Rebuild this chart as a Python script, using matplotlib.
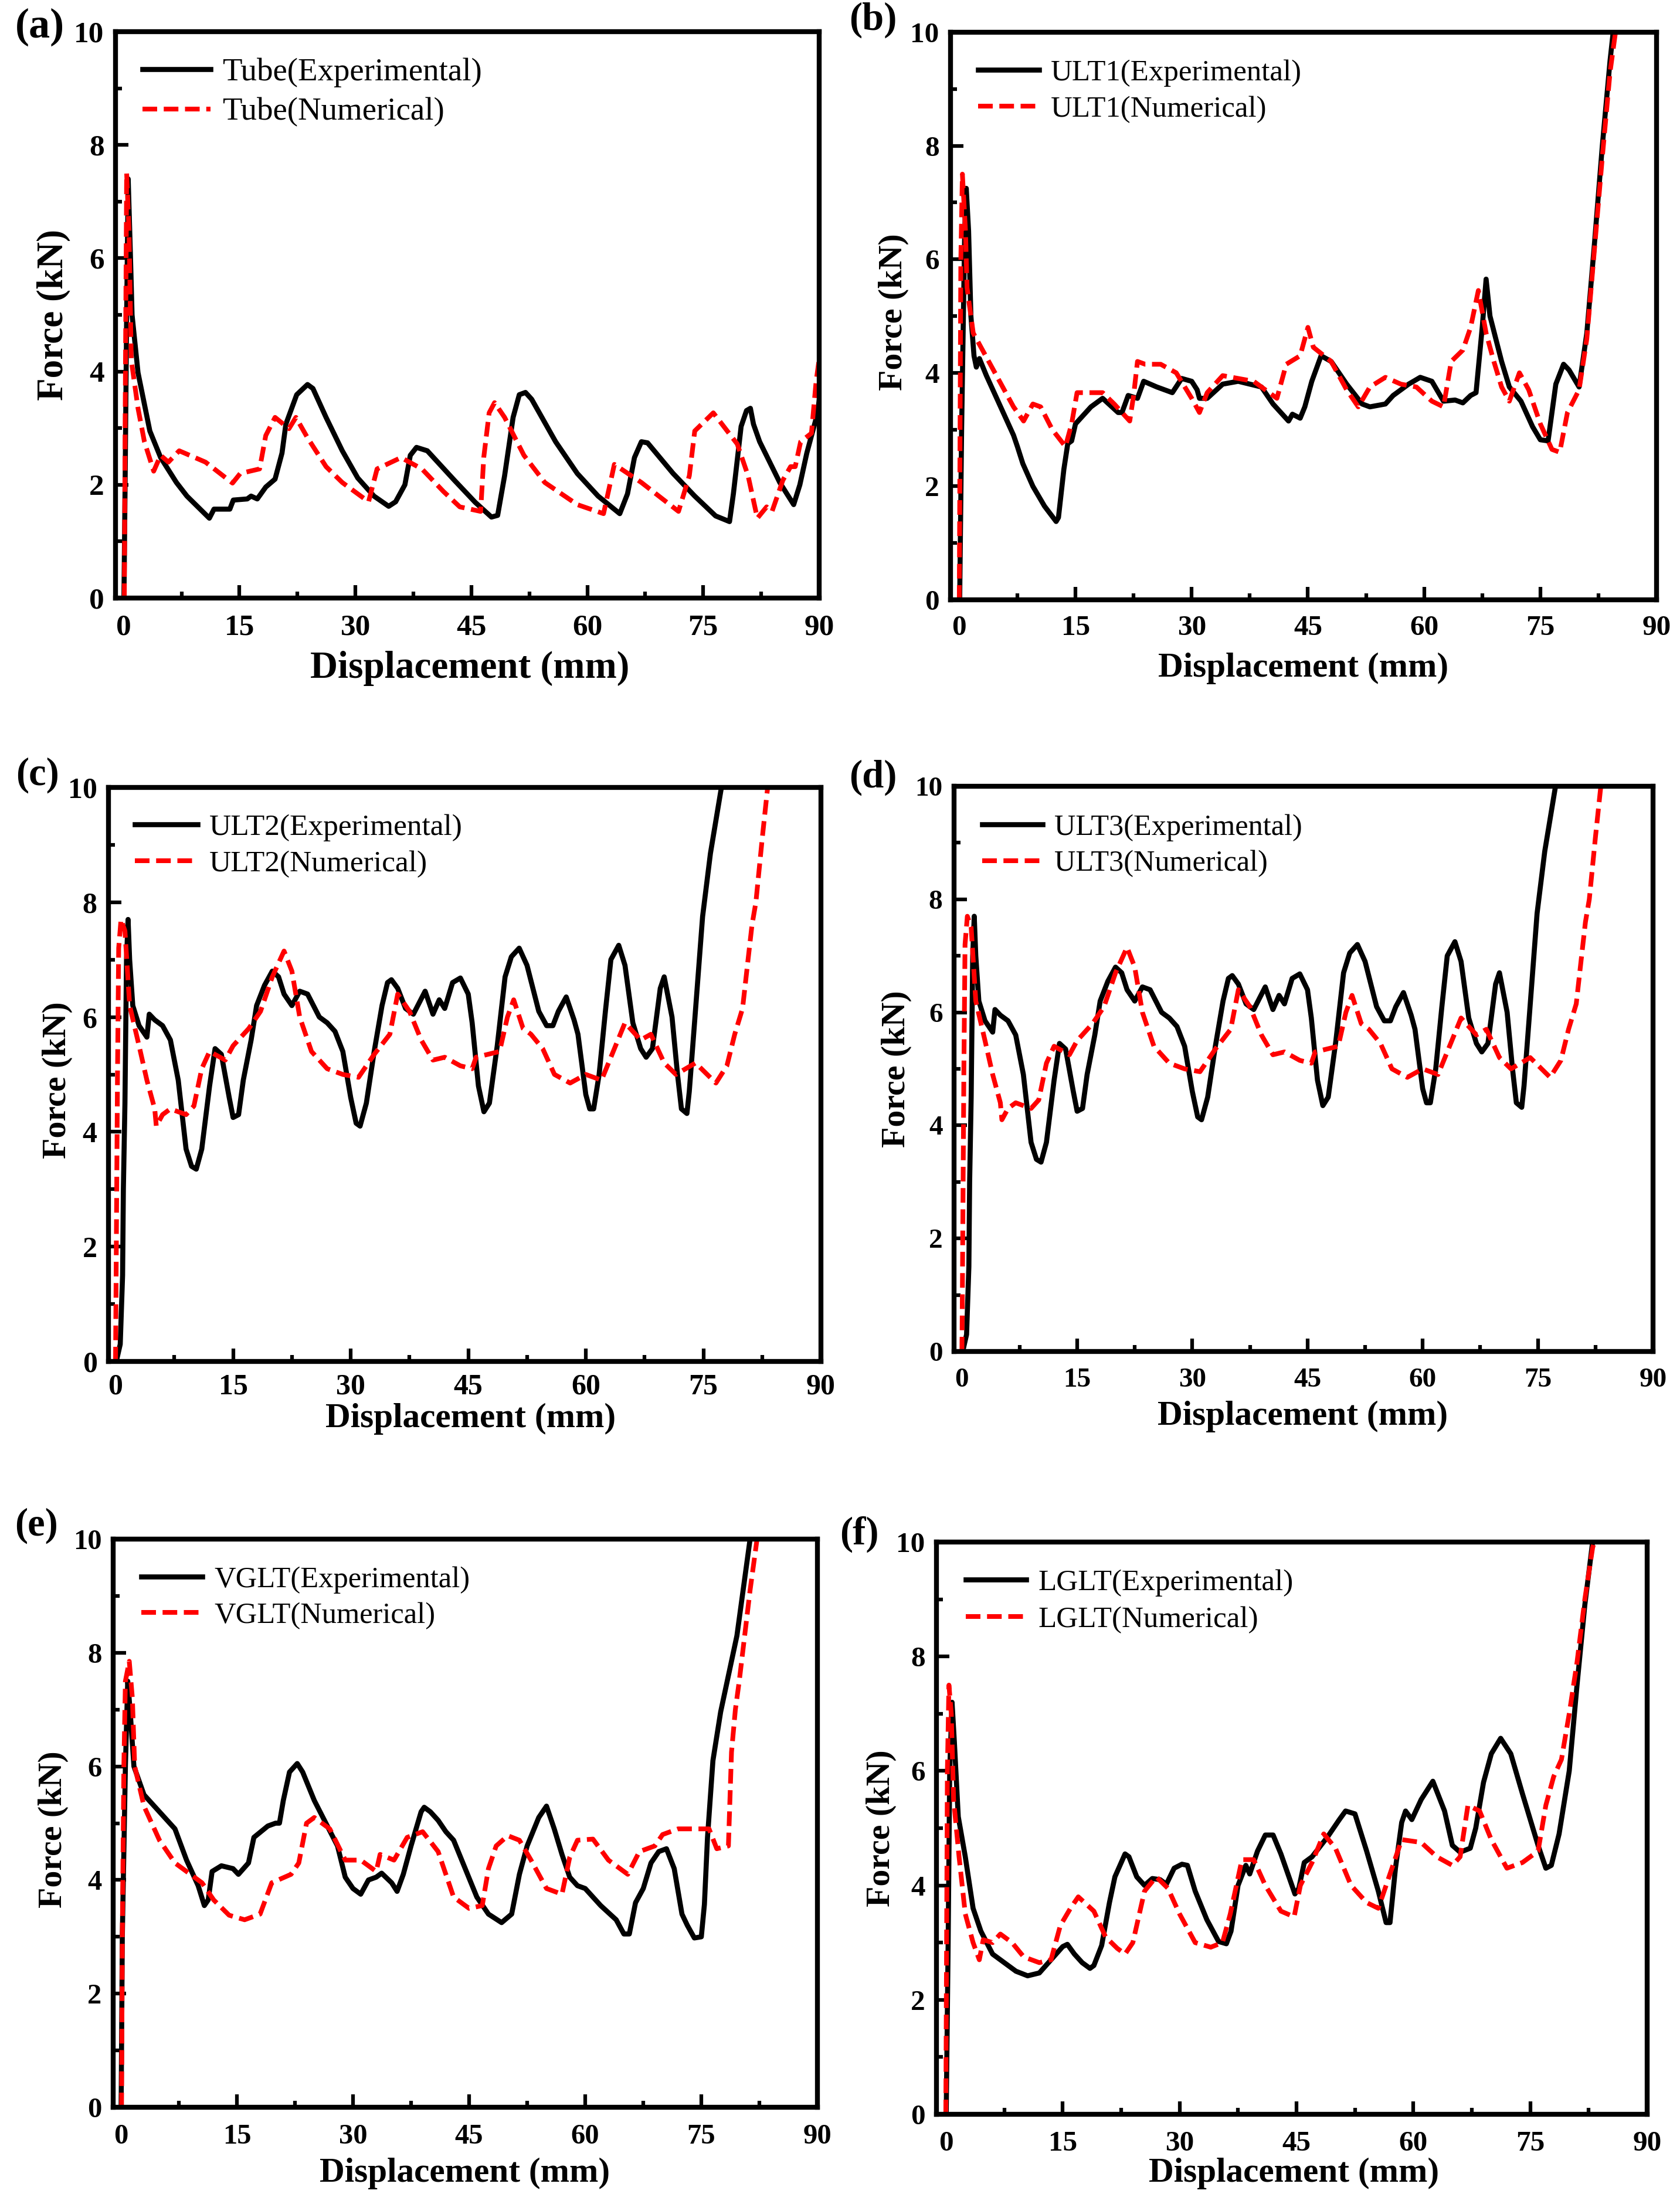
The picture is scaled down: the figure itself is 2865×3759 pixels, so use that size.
import matplotlib
matplotlib.use('Agg')
import matplotlib.pyplot as plt
from matplotlib.ticker import MultipleLocator

W, H = 2865, 3759
DPI = 100
plt.rcParams['font.family'] = ['Liberation Serif', 'DejaVu Serif']

# ---- curves: displacement (mm), force (kN)
tube_exp_x = [0.05,0.2,0.4,0.6,0.9,1.1,1.87,3.4,4.8,6.84,8.2,11.1,11.7,13.75,14.2,16,16.5,17.3,18.4,19.6,20.5,21,22.4,23.8,24.5,26.2,28.3,30.3,32.4,34.3,35.2,36.4,37.1,37.9,39.3,42.8,45.5,47.6,48.4,49.3,50.4,51.2,52,52.8,55.9,58.7,61.4,64.2,65.2,66.1,67,67.8,71.1,73.9,76.6,78.4,78.9,79.9,80.6,81.1,81.5,82.3,84.9,86.7,87.5,88.4,89.8,90]
tube_exp_y = [0,2,5,7.4,6,5,3.98,2.95,2.48,2.04,1.8,1.41,1.57,1.57,1.73,1.75,1.8,1.75,1.96,2.1,2.56,3.07,3.59,3.77,3.7,3.19,2.6,2.12,1.8,1.62,1.7,2.0,2.52,2.66,2.6,2.08,1.69,1.43,1.46,2.16,3.19,3.59,3.63,3.51,2.76,2.2,1.8,1.49,1.84,2.48,2.76,2.74,2.2,1.8,1.45,1.35,1.84,3.03,3.31,3.35,3.07,2.76,2.04,1.65,2.0,2.56,3.27,3.5]
tube_num_x = [0.1,0.2,0.4,0.7,1,1.87,2.7,3.9,4.8,5.8,7.2,10.6,14.1,15.1,17.6,18.4,19.6,21.4,22.3,23.8,26.2,28.3,31.7,32.8,35.9,38.6,41.4,43.5,46.2,46.6,47.3,48,49.3,51.8,54.5,58.7,62.1,63.5,67,71.8,73.2,73.9,76.3,79.4,80.8,82,83.2,83.9,85.3,86.3,86.9,87.6,89,89.6,90]
tube_num_y = [0,3,7.5,6.5,4.2,3.35,2.76,2.24,2.52,2.4,2.6,2.4,2.03,2.2,2.28,2.87,3.19,2.99,3.19,2.83,2.32,2.04,1.7,2.28,2.48,2.28,1.88,1.61,1.53,2.48,3.27,3.45,3.19,2.52,2.04,1.65,1.49,2.36,2.04,1.53,2.16,2.95,3.27,2.72,2.16,1.41,1.61,1.53,2.08,2.32,2.32,2.76,2.91,3.82,4.22]

ult1_exp_x = [0.05,0.3,0.7,0.9,1.2,1.5,1.9,2.2,2.6,3.5,5,7,7.5,8.2,9.5,11,12.5,12.8,13.5,14,14.5,15,17,18,18.5,20.5,21,21.8,23,23.8,25.5,27.5,28.7,30,30.7,31,32,34,36,39,40.5,42.5,43,44,44.6,45.5,46.7,48,50,52,53,55,56,58,59.5,61,62.5,64,65,66,66.7,67.5,68,68.5,70,71,72.5,74,75,76,77,78,78.7,80,81,82,83,84,84.4]
ult1_exp_y = [0,3,6.5,7.25,6.5,5,4.3,4.1,4.25,3.95,3.5,2.9,2.7,2.4,2,1.65,1.38,1.45,2.3,2.75,2.8,3.1,3.4,3.5,3.55,3.3,3.3,3.6,3.55,3.85,3.75,3.65,3.9,3.85,3.7,3.55,3.55,3.8,3.85,3.75,3.45,3.15,3.27,3.2,3.4,3.85,4.3,4.2,3.8,3.45,3.4,3.45,3.6,3.8,3.92,3.85,3.5,3.52,3.47,3.6,3.65,4.8,5.65,5,4.2,3.75,3.5,3.05,2.82,2.8,3.8,4.15,4.05,3.75,4.7,6.3,8,9.5,10]
ult1_num_x = [0,0.1,0.2,0.4,0.8,1,1.8,3,5,7,8.3,9.5,10.5,12,13.7,14.5,15.2,17,18.5,20,22,22.5,23,24,26,28,30,31,32,34,36,38,41,42.2,44,45,45.7,48,50,51.5,53,55,57,59,61,62.5,63.5,65,66,67,68,69,70,71,72.3,73.5,75,76.5,77.5,78.5,80,81,82,83,84,84.7]
ult1_num_y = [0,3,6,7.5,6.5,5.5,4.7,4.4,3.9,3.4,3.15,3.45,3.4,3,2.7,3.1,3.65,3.65,3.65,3.45,3.15,3.6,4.2,4.15,4.15,4,3.55,3.3,3.65,3.95,3.9,3.85,3.55,4.15,4.3,4.8,4.45,4.2,3.7,3.4,3.75,3.92,3.8,3.75,3.5,3.4,4.2,4.4,4.8,5.45,4.7,4.2,3.75,3.5,4,3.7,3.1,2.65,2.6,3.3,3.7,4.6,6.2,7.8,9.3,10]

ult2_exp_x = [0.1,0.6,0.9,1,1.2,1.4,1.6,1.8,2.2,3,4,4.3,5,6,7,8,9,9.7,10.3,11,12,12.7,13.5,14.5,15,15.7,16.3,17.3,18,19,20,20.8,21.5,22.5,23.5,24.5,26,27,28,29,30,30.7,31.2,32,33,34,34.7,35.2,36,37,38,39.5,40.5,41.3,42,43,44,45,45.5,46.3,47,47.7,48.7,49.7,50.5,51.5,52.5,54,55,55.8,56.5,57.5,58.5,59,60,60.5,61,61.7,62.5,63.2,64.2,65,66,67,67.7,68.5,69.5,70,71,71.7,72.2,72.9,73.2,73.9,74.9,75.9,77.3]
ult2_exp_y = [0,0.3,1.5,3,4.5,7,7.7,7,6.2,5.85,5.65,6.05,5.95,5.85,5.6,4.9,3.7,3.4,3.35,3.7,4.8,5.45,5.35,4.6,4.25,4.3,4.9,5.6,6.2,6.55,6.8,6.7,6.4,6.2,6.45,6.4,6,5.9,5.75,5.4,4.6,4.15,4.1,4.5,5.4,6.2,6.6,6.65,6.5,6.15,6.05,6.45,6.05,6.3,6.15,6.6,6.68,6.4,5.9,4.8,4.35,4.5,5.5,6.7,7.05,7.2,6.9,6.1,5.85,5.85,6.1,6.35,5.95,5.7,4.65,4.4,4.4,5,6.1,7,7.25,6.9,5.9,5.45,5.3,5.45,6.5,6.7,6,5,4.4,4.32,4.7,5.95,7.75,8.85,10]
ult2_num_x = [0,0.1,0.25,0.4,0.7,1.2,1.8,3,4,5,5.2,6,7,9,10,11,12,14,15,17,18.5,20,21.5,22.5,23.5,25,27,29,31,33,35,36,37.5,39,40.5,42,44,45.5,46,49,50,50.8,52,53,54.5,56,58,60,62,63.5,65,67,68.3,70,71.5,74,76.6,78,79,80,80.7,81.2,81.7,82.5,83.2]
ult2_num_y = [0,2,5,7.2,7.7,7.5,6.2,5.5,4.9,4.4,4.1,4.3,4.4,4.3,4.45,5.1,5.4,5.25,5.5,5.8,6.1,6.7,7.15,6.8,6,5.4,5.1,5,4.95,5.35,5.7,6.4,6.1,5.6,5.25,5.3,5.15,5.1,5.3,5.4,6,6.3,5.8,5.7,5.45,5,4.85,5,4.9,5.4,5.9,5.6,5.7,5.2,5,5.2,4.85,5.15,5.7,6.15,7,7.6,8,9.1,10]

# panel (d) traces the same shape as (c)
ult3_exp_x = list(ult2_exp_x)
ult3_exp_y = list(ult2_exp_y)
ult3_num_x = list(ult2_num_x)
ult3_num_y = list(ult2_num_y)

vglt_exp_x = [0.05,0.2,0.6,0.9,1.2,1.7,3,5,7,8.5,10,10.8,11.3,11.8,13,14.5,15.2,16.5,17.2,19,20,20.5,21,21.8,22.8,23.5,25,26.5,28,29,30,31,32,33,33.7,35,35.7,36.5,37.5,38.8,39.2,40,41,42,43,44.5,46,47.5,49.2,50.5,51.5,52.5,54,55,56,57,58,59,60,62,64,65,65.7,66.5,67.5,68.5,69.5,70.5,71.5,72.5,73.2,74.1,75,75.4,75.8,76.5,77.5,79.6,81.3]
vglt_exp_y = [0,3,6,7.5,7,6,5.5,5.2,4.9,4.35,3.9,3.55,3.65,4.15,4.25,4.2,4.1,4.3,4.75,4.95,5,5,5.4,5.9,6.05,5.9,5.4,5,4.6,4.05,3.85,3.75,4,4.05,4.12,3.95,3.8,4.1,4.6,5.2,5.28,5.2,5.05,4.85,4.7,4.2,3.7,3.4,3.25,3.4,4.1,4.6,5.1,5.3,4.9,4.45,4.05,3.9,3.85,3.55,3.3,3.05,3.05,3.6,3.85,4.3,4.5,4.55,4.2,3.4,3.2,2.98,3,3.57,4.75,6.1,6.96,8.3,10]
vglt_num_x = [0.1,0.2,0.4,0.6,1.1,1.5,1.8,3,5,7,9,10.5,12,14,16,18,19.5,22,23,24,25,27,29,31,33,33.5,35.3,37,39,41,43,45,46.7,47.5,48.5,50,51.5,53,55,57,58,59,61,63,65.5,67,69,70,72,76,77,78.5,78.9,79.4,79.9,81.3,82.2]
vglt_num_y = [0,3,6,7.5,7.85,7.2,6,5.3,4.7,4.3,4.1,3.95,3.65,3.38,3.3,3.4,3.95,4.1,4.3,5,5.1,4.9,4.35,4.35,4.15,4.45,4.35,4.75,4.85,4.5,3.7,3.5,3.55,4.2,4.6,4.78,4.7,4.35,3.85,3.75,4.4,4.7,4.72,4.35,4.1,4.5,4.6,4.8,4.9,4.9,4.55,4.6,6.25,7,7.5,9.1,10]

lglt_exp_x = [0.05,0.3,0.5,0.8,1.1,1.6,2.5,3.5,4.5,6,7.5,9,10.5,12,13.5,15,15.6,16.5,17.5,18.5,19,20,21,21.7,23,23.5,24.5,25.5,26.5,27.5,28.3,29.3,30.3,31,32,33.5,35,36,36.6,37.5,38.5,39,40,41,42,43,44.8,45.3,46,47,49,50.5,51.3,52.5,54,55.5,56.5,57,57.7,58.5,59,59.8,61,62.5,64,65,66,67.3,68,69,70,71.2,72.5,74,76,77,77.7,78.7,80,81,82,83]
lglt_exp_y = [0,3,6,7.2,6.5,5.2,4.5,3.6,3.2,2.8,2.65,2.5,2.42,2.47,2.7,2.93,2.97,2.8,2.65,2.55,2.6,2.95,3.7,4.15,4.55,4.5,4.15,4,4.12,4.1,4.02,4.3,4.37,4.35,3.9,3.4,3.02,2.98,3.2,4,4.35,4.2,4.6,4.88,4.88,4.55,3.85,3.95,4.4,4.5,4.85,5.15,5.3,5.25,4.6,3.9,3.35,3.35,4.3,5.1,5.3,5.15,5.5,5.82,5.3,4.7,4.58,4.65,5,5.8,6.3,6.57,6.3,5.6,4.7,4.3,4.35,4.9,6,7.5,8.9,10]
lglt_num_x = [0,0.1,0.2,0.4,0.7,1,1.7,2.5,3.5,4.3,4.8,6,7,8.5,10,12,13.5,14.7,16,17,19,20.5,22,23,24,25.5,27,28.5,30,32,34,35.5,36.5,38,39.5,41,43,44.7,45.5,47,48.5,50,52,54,55.5,57,58.5,61,63,65,66,67,68.5,70,72,74,76,77,78,79,80,81,82,83,83.2]
lglt_num_y = [0,3,6,7.5,7,5.5,4.5,3.5,3,2.7,3.05,3,3.15,3,2.75,2.65,2.7,3.3,3.6,3.8,3.55,3.1,2.9,2.8,3,3.9,4.15,3.95,3.5,3,2.92,3,3.5,4.45,4.45,4,3.55,3.45,4,4.4,4.9,4.65,4,3.7,3.6,4.2,4.8,4.75,4.5,4.35,4.5,5.4,5.3,4.8,4.3,4.4,4.6,5.4,5.9,6.2,7,7.9,9,9.9,10]

panel_letters = ['(a)', '(b)', '(c)', '(d)', '(e)', '(f)']
specimens = ['Tube', 'ULT1', 'ULT2', 'ULT3', 'VGLT', 'LGLT']
x_ticks = [0, 15, 30, 45, 60, 75, 90]
y_ticks = [0, 2, 4, 6, 8, 10]

curves = [
    (tube_exp_x, tube_exp_y, tube_num_x, tube_num_y),
    (ult1_exp_x, ult1_exp_y, ult1_num_x, ult1_num_y),
    (ult2_exp_x, ult2_exp_y, ult2_num_x, ult2_num_y),
    (ult3_exp_x, ult3_exp_y, ult3_num_x, ult3_num_y),
    (vglt_exp_x, vglt_exp_y, vglt_num_x, vglt_num_y),
    (lglt_exp_x, lglt_exp_y, lglt_num_x, lglt_num_y),
]

# ---- layout in pixels of the output
# frame (l, r, t, b) and left x limit
frames = [(197, 1397, 54, 1020), (1621, 2825, 55, 1023), (185, 1400, 1343, 2322),
          (1627, 2819, 1341, 2305), (193, 1394, 2625, 3594), (1597, 2809, 2630, 3606)]
x_left = [-1.04, -1.13, -0.9, -1.03, -0.98, -1.2]
# tick label size, x pad
tick_sizes = [37, 35.5, 36, 34, 35, 35.5]
x_pads = [20, 19, 15, 20, 20, 20]
# legend: handle left, first row y, fontsize, handle length px, row spacing px
legends = [(243, 129, 39.5, 116, 69), (1668, 129, 36.6, 104, 64), (230, 1416, 37, 107, 64),
           (1675, 1416, 36.2, 103, 63), (241, 2699, 36.4, 104, 63), (1647, 2704, 36.8, 103, 65)]
# xlabel centre x, y, ylabel centre x, y, xlabel size, ylabel size
labels = [(801, 1140, 91, 537, 46.9, 45.5), (2223, 1140, 1524, 532, 42.7, 41.7), (803, 2420, 98, 1842, 42.7, 41.7),
          (2222, 2416, 1529, 1823, 42.7, 41.7), (793, 3707, 91, 3120, 42.7, 41.7), (2207, 3707, 1503, 3118, 42.7, 41.7)]
letter_pos = [(68, 46), (1489, 34), (64, 1322), (1489, 1326), (62, 2602), (1465, 2617)]
letter_sizes = [52, 48, 48, 48, 48, 48]

fig = plt.figure(figsize=(W / DPI, H / DPI), dpi=DPI)


def fx(px):
    return px / W


def fy(py):
    return 1 - py / H


def plotPanel(i):
    l, r, t, b = frames[i]
    ax = fig.add_axes([fx(l), fy(b), (r - l) / W, (b - t) / H])
    ex, ey, nx, ny = curves[i]
    name = specimens[i]
    ax.plot(ex, ey, color='black', lw=6.2, label=f'{name}(Experimental)', solid_joinstyle='round')
    ax.plot(nx, ny, color='red', lw=5.8, dashes=(3.1, 1.4), label=f'{name}(Numerical)')
    ax.set_xlim(x_left[i], 90)
    ax.set_ylim(0, 10)
    ax.set_xticks(x_ticks)
    ax.set_yticks(y_ticks)
    ax.xaxis.set_minor_locator(MultipleLocator(7.5))
    ax.yaxis.set_minor_locator(MultipleLocator(1))
    ax.tick_params(which='major', direction='in', length=15.5, width=4.5, labelsize=tick_sizes[i])
    ax.tick_params(which='minor', direction='in', length=8, width=4.5)
    ax.tick_params(axis='x', which='major', pad=x_pads[i])
    ax.tick_params(axis='y', which='major', pad=14)
    for lab in ax.get_xticklabels() + ax.get_yticklabels():
        lab.set_fontweight('bold')
    for s in ax.spines.values():
        s.set_linewidth(6)

    hx, hy, fs, hlen, row = legends[i]
    fs_px = fs * DPI / 72
    ax.legend(loc='upper left', bbox_to_anchor=(fx(hx), fy(hy - 0.55 * fs_px)),
              bbox_transform=fig.transFigure, frameon=False, fontsize=fs,
              borderpad=0, borderaxespad=0, handlelength=hlen / fs_px,
              handletextpad=(12 + 8) / fs_px, labelspacing=(row - fs_px * 0.95) / fs_px)

    xx, xy, yx, yy, xs, ys = labels[i]
    fig.text(fx(xx), fy(xy), 'Displacement (mm)', fontsize=xs, fontweight='bold', ha='center', va='center')
    fig.text(fx(yx), fy(yy), 'Force (kN)', fontsize=ys, fontweight='bold', rotation=90, ha='center', va='center')
    px, py = letter_pos[i]
    fig.text(fx(px), fy(py), panel_letters[i], fontsize=letter_sizes[i], fontweight='bold', ha='center', va='center')


for i in range(6):
    plotPanel(i)

fig.savefig('out.png', dpi=DPI)
